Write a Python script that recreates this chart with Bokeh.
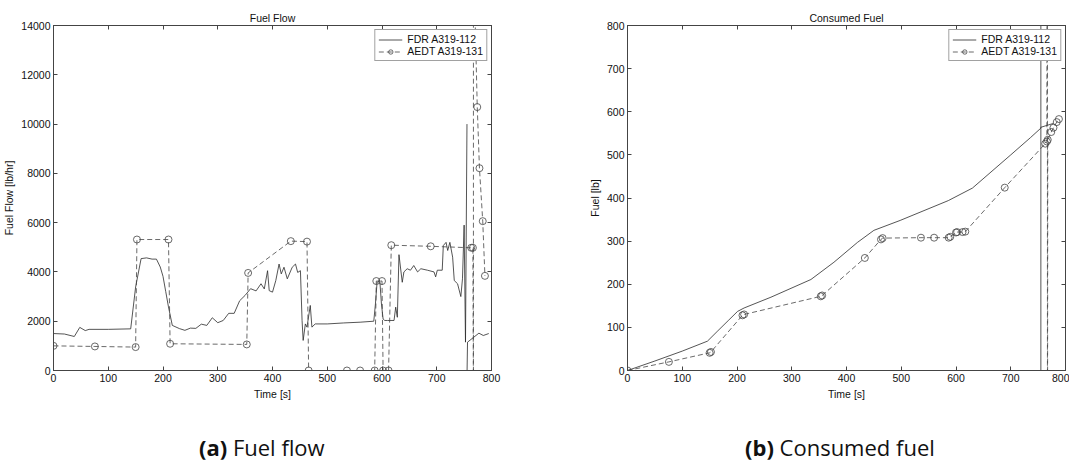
from bokeh.plotting import figure
from bokeh.models import Range1d, LinearAxis, FixedTicker, Legend, LegendItem, Div
from bokeh.layouts import row, column
from bokeh.embed import file_html
from bokeh.resources import INLINE

FONT = "Liberation Sans"
NAN = float("nan")

# ---------------- data ----------------
x_ticks = [0, 100, 200, 300, 400, 500, 600, 700, 800]
ff_ticks = [0, 2000, 4000, 6000, 8000, 10000, 12000, 14000]
fuel_ticks = [0, 100, 200, 300, 400, 500, 600, 700, 800]

series_names = ["FDR A319-112", "AEDT A319-131"]
captions = [("(a)", "Fuel flow"), ("(b)", "Consumed fuel")]

# Fuel flow, FDR (time s, lb/hr)
fdr_ff_t = [0, 20, 38, 48, 58, 65, 100, 141, 150, 160, 170, 180, 188, 195, 200, 205,
            210, 217, 230, 240, 250, 260, 270, 280, 290, 300, 310, 320, 330, 340, 350,
            360, 370, 379, 385, 391, 394, 400, 406, 412, 416, 421, 427, 436, 442, 446,
            451, 454, 456, 460, 463, 469, 472, 478, 500, 530, 560, 585, 588, 591, 596,
            599, 602, 605, 610, 622, 625, 628, 631, 637, 640, 646, 652, 658, 665, 671,
            683, 695, 698, 701, 710, 712, 717, 720, 724, 729, 732, 738, 744, 747, 750,
            752.5, 755.2, 755.2, 755.2, 756.2, 777, 785, 795]
fdr_ff = [1500, 1480, 1380, 1750, 1620, 1670, 1670, 1690, 3390, 4540, 4570, 4520, 4520,
          4200, 3820, 3200, 2580, 1830, 1700, 1630, 1720, 1710, 1880, 1830, 2140, 1940,
          2030, 2320, 2320, 2830, 3050, 3320, 3230, 3520, 3310, 4050, 3240, 3180, 3650,
          4320, 3920, 4190, 3720, 4190, 4320, 3980, 4050, 2030, 1220, 1890, 1760, 2640,
          1760, 1890, 1890, 1930, 1960, 2000, 2700, 3580, 3650, 2700, 2090, 2030, 2030,
          2030, 2570, 2160, 4700, 3580, 4000, 4130, 4070, 4260, 4000, 4130, 4070, 4000,
          3800, 4070, 4070, 5070, 5200, 4870, 5200, 4600, 3650, 3520, 3000, 3720, 5900,
          1150, 10000, NAN, -300, 1150, 1515, 1420, 1500]

# Fuel flow, AEDT
aedt_ff_t = [0, 75.6, 150, 152.4, 210, 213, 353, 355.5, 433.5, 463, 466, 536, 560,
             586.6, 589.6, 600, 602, 612, 617, 689, 763, 766, 767, 767, 774, 778,
             784, 788]
aedt_ff = [1000, 976, 950, 5315, 5315, 1085, 1058, 3960, 5250, 5230, 0, 0, 0, 0, 3630,
           3630, 0, 0, 5085, 5040, 4980, 4980, -800, 17000, 10690, 8210, 6060, 3840]

# Consumed fuel, FDR (lb)
fdr_c_t = [0, 50, 100, 146, 165, 185, 201, 213, 262, 335, 377, 420, 450, 498, 586, 630,
           700, 736, 755, 755, 755, 755, 755, 778]
fdr_c = [0, 22, 45, 68, 92, 117, 137, 145, 170, 211, 251, 297, 325, 348, 394, 423, 500,
         540, 562, 2000, NAN, -500, 564, 573]

# Consumed fuel, AEDT
aedt_c_t = [0, 75.6, 150, 152.4, 210, 213, 353, 355.5, 433.5, 463, 466, 536, 560, 586.6,
            589.6, 600, 602, 612, 617, 689, 763, 766, 767, 767, 767.6, 774, 778, 784,
            788]
aedt_c = [0, 20, 41, 43, 128, 130, 172, 174, 261, 304, 307, 308, 308, 308, 310, 320, 321,
          321, 322, 424, 526, 531, 2000, -500, 535, 553, 563, 576, 583]


def style_axis(ax, labels=True):
    ax.major_tick_in = 4
    ax.major_tick_out = 0
    ax.minor_tick_line_color = None
    ax.axis_line_color = "#444444"
    ax.major_tick_line_color = "#444444"
    ax.major_label_text_font = FONT
    ax.major_label_text_font_size = "10.5px"
    ax.major_label_text_color = "#111111"
    ax.major_label_standoff = 3
    ax.axis_label_text_font = FONT
    ax.axis_label_text_font_size = "10.5px"
    ax.axis_label_text_font_style = "normal"
    ax.axis_label_text_color = "#111111"
    ax.axis_label_standoff = 3
    if not labels:
        ax.major_label_text_color = None
        ax.major_label_text_font_size = "1px"
        ax.major_label_standoff = 0


def make_fig(title, width, left, right, ymax, yticks, ylabel):
    p = figure(width=width, height=410, output_backend="svg", toolbar_location=None,
               x_range=Range1d(0, 800), y_range=Range1d(0, ymax),
               min_border_left=left, min_border_right=right,
               min_border_top=25, min_border_bottom=40)
    p.grid.visible = False
    p.outline_line_color = "#444444"
    p.title.text = title
    p.title.align = "center"
    p.title.text_font = FONT
    p.title.text_font_size = "10.5px"
    p.title.text_font_style = "normal"
    p.title.text_color = "#111111"
    p.title.standoff = 4
    p.xaxis.ticker = FixedTicker(ticks=x_ticks)
    p.yaxis.ticker = FixedTicker(ticks=yticks)
    p.xaxis.axis_label = "Time [s]"
    p.yaxis.axis_label = ylabel
    for ax in p.xaxis + p.yaxis:
        style_axis(ax)
    top = LinearAxis(ticker=FixedTicker(ticks=x_ticks))
    rgt = LinearAxis(ticker=FixedTicker(ticks=yticks))
    style_axis(top, False)
    style_axis(rgt, False)
    p.add_layout(top, "above")
    p.add_layout(rgt, "right")
    return p


def add_series(p, t1, v1, t2, v2):
    r1 = p.line(t1, v1, line_color="#2a2a2a", line_width=0.8)
    r2 = p.line(t2, v2, line_color="#444444", line_width=0.8, line_dash="5 3")
    r3 = p.scatter(t2, v2, marker="circle", size=7, fill_color=None,
                   line_color="#444444", line_width=0.8)
    lg = Legend(items=[LegendItem(label=series_names[0], renderers=[r1]),
                       LegendItem(label=series_names[1], renderers=[r2, r3])],
                location="top_right")
    lg.margin = 4
    lg.padding = 3
    lg.spacing = 0
    lg.label_height = 11
    lg.glyph_height = 11
    lg.glyph_width = 24
    lg.label_standoff = 5
    lg.label_text_font = FONT
    lg.label_text_font_size = "10.5px"
    lg.label_text_color = "#111111"
    lg.border_line_color = "#444444"
    lg.border_line_width = 1
    lg.background_fill_alpha = 1
    p.add_layout(lg)


def caption_div(width, left, tag, text):
    html = ('<div style="position:absolute; left:%dpx; top:20px; white-space:nowrap; '
            'font-family:\'Open Sans\'; font-size:22px; line-height:24px; color:#111;">'
            '<b>%s</b>&nbsp;%s</div>' % (left, tag, text))
    return Div(text=html, width=width, height=52)


p1 = make_fig("Fuel Flow", 552, 52, 61, 14000, ff_ticks, "Fuel Flow [lb/hr]")
add_series(p1, fdr_ff_t, fdr_ff, aedt_ff_t, aedt_ff)

p2 = make_fig("Consumed Fuel", 517, 75, 4, 800, fuel_ticks, "Fuel [lb]")
add_series(p2, fdr_c_t, fdr_c, aedt_c_t, aedt_c)

d1 = caption_div(552, 194, *captions[0])
d2 = caption_div(517, 178, *captions[1])

layout = column(row(p1, p2), row(d1, d2))
open("out.html", "w").write(file_html(layout, INLINE))
